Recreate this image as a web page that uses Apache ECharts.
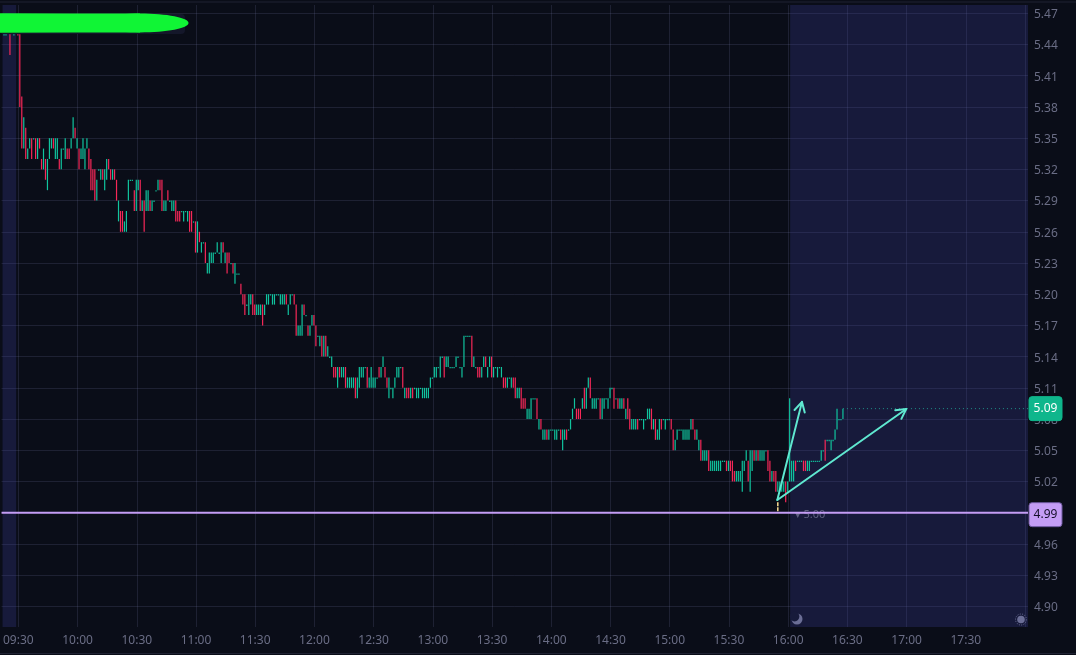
<!DOCTYPE html>
<html><head><meta charset="utf-8">
<style>html,body{margin:0;padding:0;background:#0a0d18}#c{width:1076px;height:655px}</style>
<script src="https://cdn.jsdelivr.net/npm/echarts@6/dist/echarts.min.js"></script>
</head><body><div id="c"></div>
<script>
// minutes since 09:30 of the first entry in the bar arrays
var firstBarMinute = -8;
var barHigh = [5.45,5.45,null,5.45,null,5.45,null,5.45,
5.45,5.39,5.37,5.36,5.34,5.35,5.35,5.35,5.35,5.35,
5.35,5.33,5.34,5.33,5.33,5.35,5.35,5.35,5.35,5.35,
5.33,5.34,5.34,5.35,5.34,5.34,5.35,5.37,5.36,5.35,
5.34,5.34,5.35,5.34,5.35,5.34,5.33,5.32,5.32,5.31,
5.32,5.32,5.32,5.32,5.33,5.33,5.32,5.32,5.32,5.31,
5.29,5.28,5.28,5.27,5.28,5.31,5.31,5.31,5.30,5.31,
5.31,5.31,5.29,5.29,5.30,5.30,5.29,5.29,5.29,5.30,
5.31,5.31,5.31,5.29,5.29,5.30,5.29,5.29,5.29,5.29,
5.28,5.28,5.28,5.28,5.28,5.28,5.28,5.28,5.27,5.27,
5.27,5.26,5.25,5.25,5.25,5.23,5.24,5.24,5.24,5.24,
5.25,5.24,5.25,5.25,5.24,5.24,5.24,5.23,5.23,5.23,
5.22,5.22,5.21,5.20,5.20,5.19,5.20,5.20,5.20,5.19,
5.19,5.19,5.19,5.19,5.19,5.20,5.20,5.20,5.20,5.20,
5.20,5.20,5.20,5.20,5.20,5.20,5.19,5.20,5.20,5.20,
5.19,5.17,5.17,5.19,5.19,5.18,5.17,5.17,5.18,5.18,
5.17,5.16,5.16,5.16,5.16,5.16,5.15,5.14,5.14,5.13,
5.13,5.13,5.13,5.13,5.13,5.13,5.12,5.12,5.12,5.12,
5.12,5.12,5.13,5.13,5.13,5.13,5.13,5.12,5.13,5.12,
5.12,5.12,5.13,5.13,5.14,5.13,5.12,5.12,5.11,5.11,
5.12,5.13,5.13,5.13,5.13,5.11,5.11,5.11,5.11,5.11,
5.11,5.11,5.11,5.11,5.11,5.11,5.11,5.11,5.12,5.12,
5.13,5.13,5.13,5.14,5.14,5.14,5.14,5.14,5.13,5.13,
5.13,5.14,5.14,5.13,5.13,5.16,5.16,5.16,5.16,5.16,
5.14,5.13,5.13,5.13,5.13,5.14,5.14,5.13,5.14,5.14,
5.13,5.13,5.13,5.13,5.13,5.12,5.12,5.12,5.12,5.12,
5.12,5.12,5.11,5.11,5.11,5.10,5.10,5.09,5.09,5.10,
5.10,5.10,5.10,5.08,5.08,5.07,5.07,5.07,5.07,5.07,
5.07,5.07,5.07,5.07,5.07,5.07,5.07,5.07,5.07,5.08,
5.09,5.10,5.09,5.09,5.09,5.10,5.11,5.11,5.12,5.12,
5.10,5.10,5.10,5.10,5.10,5.10,5.10,5.10,5.10,5.11,
5.11,5.11,5.10,5.10,5.10,5.10,5.10,5.09,5.10,5.09,
5.08,5.08,5.08,5.08,5.08,5.08,5.08,5.08,5.09,5.09,
5.09,5.08,5.08,5.07,5.08,5.08,5.08,5.08,5.08,5.08,
5.08,5.07,5.06,5.07,5.07,5.07,5.07,5.07,5.07,5.07,
5.08,5.08,5.07,5.07,5.06,5.06,5.05,5.05,5.05,5.05,
5.04,5.04,5.04,5.04,5.04,5.04,5.04,5.04,5.04,5.04,
5.04,5.04,5.03,5.03,5.03,5.03,5.04,5.04,5.05,5.04,
5.05,5.05,5.05,5.05,5.05,5.05,5.05,5.05,5.05,5.05,
5.04,5.03,5.03,5.03,5.02,5.02,5.02,5.02,5.02,5.02,
5.10,5.04,5.04,5.04,5.04,5.04,5.04,5.04,5.04,5.04,
5.04,5.04,5.04,5.04,5.04,5.04,5.05,5.05,5.06,5.06,
5.06,5.06,5.06,5.07,5.09,5.08,5.08,5.09];
var barLow = [5.45,5.45,null,5.43,null,5.45,null,5.45,
5.38,5.34,5.34,5.33,5.33,5.34,5.33,5.35,5.33,5.33,
5.34,5.32,5.32,5.31,5.30,5.33,5.34,5.34,5.33,5.33,
5.32,5.32,5.34,5.33,5.33,5.33,5.34,5.35,5.35,5.34,
5.32,5.33,5.33,5.32,5.34,5.32,5.30,5.30,5.29,5.29,
5.32,5.31,5.31,5.30,5.31,5.32,5.31,5.31,5.31,5.29,
5.27,5.26,5.26,5.26,5.26,5.29,5.31,5.31,5.28,5.28,
5.30,5.28,5.28,5.26,5.28,5.28,5.28,5.28,5.29,5.30,
5.30,5.30,5.28,5.28,5.28,5.29,5.29,5.28,5.28,5.27,
5.27,5.27,5.28,5.27,5.28,5.27,5.26,5.26,5.27,5.24,
5.24,5.25,5.24,5.25,5.23,5.22,5.22,5.23,5.23,5.24,
5.24,5.24,5.23,5.24,5.23,5.22,5.23,5.23,5.22,5.21,
5.22,5.22,5.20,5.19,5.18,5.19,5.18,5.19,5.18,5.18,
5.18,5.18,5.18,5.17,5.18,5.19,5.19,5.20,5.19,5.19,
5.20,5.20,5.19,5.19,5.19,5.19,5.18,5.19,5.20,5.19,
5.16,5.16,5.16,5.16,5.18,5.18,5.16,5.16,5.17,5.17,
5.15,5.16,5.15,5.14,5.14,5.14,5.14,5.14,5.13,5.12,
5.12,5.11,5.12,5.12,5.12,5.11,5.11,5.11,5.11,5.11,
5.10,5.10,5.11,5.12,5.12,5.13,5.11,5.11,5.11,5.11,
5.11,5.12,5.12,5.12,5.13,5.12,5.11,5.10,5.11,5.10,
5.11,5.12,5.12,5.13,5.11,5.10,5.10,5.10,5.10,5.10,
5.11,5.10,5.10,5.11,5.10,5.10,5.10,5.10,5.11,5.12,
5.12,5.12,5.13,5.12,5.14,5.12,5.13,5.13,5.13,5.13,
5.13,5.13,5.14,5.13,5.12,5.13,5.16,5.16,5.16,5.13,
5.13,5.13,5.12,5.12,5.12,5.13,5.13,5.12,5.13,5.12,
5.12,5.13,5.12,5.13,5.12,5.11,5.11,5.11,5.12,5.11,
5.11,5.10,5.10,5.10,5.09,5.09,5.09,5.08,5.08,5.08,
5.10,5.10,5.08,5.07,5.07,5.06,5.06,5.06,5.06,5.07,
5.07,5.06,5.06,5.07,5.06,5.05,5.06,5.06,5.07,5.07,
5.08,5.09,5.08,5.08,5.08,5.09,5.09,5.09,5.11,5.10,
5.09,5.09,5.09,5.10,5.08,5.08,5.09,5.10,5.09,5.10,
5.11,5.09,5.10,5.09,5.09,5.09,5.09,5.08,5.08,5.07,
5.07,5.07,5.07,5.07,5.08,5.08,5.07,5.08,5.08,5.08,
5.07,5.07,5.06,5.06,5.06,5.07,5.08,5.07,5.08,5.08,
5.07,5.05,5.05,5.06,5.07,5.07,5.06,5.06,5.06,5.06,
5.07,5.07,5.06,5.06,5.05,5.04,5.04,5.04,5.04,5.03,
5.03,5.03,5.03,5.03,5.03,5.03,5.04,5.04,5.03,5.03,
5.03,5.02,5.02,5.02,5.02,5.02,5.01,5.03,5.04,5.02,
5.01,5.03,5.04,5.04,5.04,5.04,5.04,5.04,5.05,5.03,
5.02,5.02,5.02,5.01,5.01,5.01,5.01,5.01,5.00,5.01,
5.02,5.02,5.02,5.03,5.04,5.04,5.04,5.03,5.03,5.03,
5.03,5.04,5.04,5.04,5.04,5.04,5.04,5.05,5.04,5.06,
5.06,5.05,5.06,5.06,5.07,5.08,5.08,5.08];
var barUp = [1,1,null,0,null,1,null,0,
0,0,1,0,1,1,0,1,0,1,
0,0,1,0,1,1,1,0,1,1,
0,1,1,1,0,0,1,1,0,1,
0,1,1,1,1,0,0,0,0,1,
1,1,0,1,1,0,0,1,0,0,
1,0,0,1,1,1,1,1,0,1,
1,0,1,0,1,1,0,1,1,1,
1,0,0,1,1,0,1,1,1,0,
0,0,1,1,1,1,0,0,1,0,
1,0,1,1,0,1,1,1,1,1,
1,1,1,0,1,0,0,1,0,1,
1,1,0,0,0,1,1,1,0,0,
1,1,1,0,1,1,1,1,1,1,
1,1,1,1,1,0,1,1,1,0,
0,1,1,1,0,1,0,1,1,0,
0,1,1,0,1,0,1,1,1,0,
0,1,0,1,1,0,1,1,1,1,
0,1,1,1,1,1,0,1,1,1,
1,1,0,1,1,0,0,1,1,1,
1,1,1,1,0,1,0,0,1,0,
1,1,1,1,1,1,1,1,1,1,
1,1,1,1,1,0,1,1,1,1,
1,1,1,1,1,1,1,1,1,0,
1,1,0,0,1,1,0,1,1,0,
1,1,1,1,1,0,0,1,1,1,
0,0,1,1,0,0,0,1,1,1,
1,1,0,1,0,1,1,0,1,1,
1,1,1,1,0,1,1,0,1,1,
1,1,0,0,0,1,0,1,1,0,
1,1,1,1,0,1,1,1,1,1,
1,0,1,0,1,1,0,1,0,0,
1,1,1,0,1,1,1,1,1,1,
0,1,0,1,1,0,1,1,1,1,
0,0,1,1,1,1,1,1,1,1,
1,0,0,1,1,0,1,1,1,0,
1,1,1,1,1,1,1,1,0,1,
0,0,0,1,1,1,1,1,1,0,
1,1,0,1,0,1,1,1,1,0,
0,1,0,0,1,1,1,1,0,1,
1,1,1,0,1,1,1,0,0,1,
1,1,1,1,1,1,1,1,0,1,
1,1,1,1,1,1,1,1];
// bar drawn in yellow at the close
var closeAuctionBar = [384, 5.00, 4.99];

var priceTicks = [5.47,5.44,5.41,5.38,5.35,5.32,5.29,5.26,5.23,5.20,5.17,5.14,5.11,5.08,5.05,5.02,4.99,4.96,4.93,4.90];
var priceTickLabels = ['5.47','5.44','5.41','5.38','5.35','5.32','5.29','5.26','5.23','5.20','5.17','5.14','5.11','5.08','5.05','5.02','4.99','4.96','4.93','4.90'];
var timeTicks = [0,30,60,90,120,150,180,210,240,270,300,330,360,390,420,450,480,510];
var timeTickLabels = ['09:30','10:00','10:30','11:00','11:30','12:00','12:30','13:00','13:30','14:00','14:30','15:00','15:30','16:00','16:30','17:00','17:30',''];

var xRange = [-8.5, 511.5];
var yRange = [4.8801, 5.478];
var sessionOff = [[-8, -1.1], [391, 511.5]];

var lastPrice = 5.09, lastBarMinute = 417;
var levelPrice = 4.99;
var arrowFrom = [384.5, 5.0022];
var arrowTips = [[397.0, 5.0965], [449.8, 5.0897]];
var levelNote = {minute: 393.3, price: 4.988, text: '\u25BE 5.00'};
var priceTags = [
  {price: 5.09, text: '5.09', bg: '#0fb68c', fg: '#ffffff', border: '#0fb68c', dy: 0},
  {price: 4.99, text: '4.99', bg: '#c49df5', fg: '#14102a', border: '#6f5aa0', dy: 2}
];

var barData = [];
barHigh.forEach(function (h, k) {
  if (h !== null) barData.push([firstBarMinute + k + 0.75, h, barLow[k], barUp[k]]);
});

var UP = '#10c49e', DOWN = '#f62858', FONT = '"Noto Sans", sans-serif', AXIS = '#6a6d85', ARROW = '#5fe8d0';
var chart = echarts.init(document.getElementById('c'), null, {renderer: 'canvas'});

function renderBar(p, api) {
  var a = api.coord([api.value(0), api.value(1)]);
  var b = api.coord([api.value(0), api.value(2)]);
  var up = api.value(3) === 1;
  var h = Math.max(b[1] - a[1], 1.3);
  return {type: 'rect', shape: {x: a[0] - 0.6, y: a[1], width: 1.2, height: h},
    style: {fill: up ? UP : DOWN}};
}
function renderArrow(p, api) {
  var s = api.coord(arrowFrom), t = api.coord([api.value(0), api.value(1)]);
  var ang = Math.atan2(t[1] - s[1], t[0] - s[0]), L = 11, W = 0.5;
  var h1 = [t[0] - L * Math.cos(ang - W), t[1] - L * Math.sin(ang - W)];
  var h2 = [t[0] - L * Math.cos(ang + W), t[1] - L * Math.sin(ang + W)];
  var st = {stroke: ARROW, lineWidth: 2, fill: null, lineCap: 'round', lineJoin: 'round'};
  return {type: 'group', children: [
    {type: 'line', shape: {x1: s[0], y1: s[1], x2: t[0], y2: t[1]}, style: st},
    {type: 'polyline', shape: {points: [h1, t, h2]}, style: st}
  ]};
}
function renderTag(p, api) {
  var tag = priceTags[p.dataIndex];
  var y = api.coord([0, api.value(0)])[1] + tag.dy;
  var x = p.coordSys.x + p.coordSys.width + 1;
  return {type: 'group', children: [
    {type: 'rect', shape: {x: x, y: y - 12, width: 33, height: 24, r: 3},
      style: {fill: tag.bg, stroke: tag.border, lineWidth: 1}},
    {type: 'text', style: {x: x + 16.5, y: y, text: tag.text, fill: tag.fg, font: '12px ' + FONT, align: 'center', verticalAlign: 'middle'}}
  ]};
}

chart.setOption({
  animation: false,
  backgroundColor: '#0a0d18',
  grid: {left: 0, right: 48, top: 5, bottom: 28, containLabel: false},
  xAxis: {
    type: 'value', min: xRange[0], max: xRange[1],
    axisLine: {show: false},
    axisTick: {show: false, customValues: timeTicks},
    splitLine: {show: true, lineStyle: {color: 'rgba(120,125,180,0.18)', width: 1}},
    axisLabel: {
      customValues: timeTicks, color: AXIS, fontFamily: 'Noto Sans', fontSize: 12, margin: 8, hideOverlap: false,
      formatter: function (v) { return timeTickLabels[timeTicks.indexOf(v)]; }
    }
  },
  yAxis: {
    type: 'value', position: 'right', min: yRange[0], max: yRange[1], scale: true,
    axisLine: {show: false},
    axisTick: {show: false, customValues: priceTicks},
    splitLine: {show: true, lineStyle: {color: 'rgba(120,125,180,0.18)', width: 1}},
    axisLabel: {
      customValues: priceTicks, color: AXIS, fontFamily: 'Noto Sans', fontSize: 12, margin: 6,
      rich: {p: {color: AXIS, fontFamily: 'Noto Sans', fontSize: 12, padding: [3, 0, 0, 0]}},
      formatter: function (v) { return '{p|' + priceTickLabels[priceTicks.indexOf(v)] + '}'; }
    }
  },
  series: [
    {
      type: 'custom', name: 'bars', z: 3, clip: true, silent: true,
      encode: {x: 0, y: [1, 2]}, data: barData, renderItem: renderBar,
      markArea: {
        silent: true, z: 1,
        itemStyle: {color: 'rgba(62,69,164,0.25)'},
        data: sessionOff.map(function (r) { return [{xAxis: r[0]}, {xAxis: r[1]}]; })
      }
    },
    {
      type: 'custom', name: 'auction', z: 3, silent: true,
      encode: {x: 0, y: [1, 2]}, data: [closeAuctionBar],
      renderItem: function (p, api) {
        var a = api.coord([api.value(0) + 0.75, api.value(1)]), b = api.coord([api.value(0) + 0.75, api.value(2)]);
        return {type: 'line', shape: {x1: a[0], y1: a[1], x2: b[0], y2: b[1]},
          style: {stroke: '#ecd08a', lineWidth: 1.6, lineDash: [4, 1]}};
      }
    },
    {
      type: 'custom', name: 'note', z: 4, silent: true,
      encode: {x: 0, y: 1}, data: [[levelNote.minute, levelNote.price]],
      renderItem: function (p, api) {
        var c = api.coord([api.value(0), api.value(1)]);
        return {type: 'text', style: {x: c[0], y: c[1], text: levelNote.text, fill: '#5e6080', font: '11px ' + FONT, verticalAlign: 'middle'}};
      }
    },
    {
      type: 'line', name: 'level', z: 5, silent: true, symbol: 'none',
      data: [[xRange[0], levelPrice], [xRange[1], levelPrice]],
      lineStyle: {color: '#c49df5', width: 2}
    },
    {
      type: 'line', name: 'last', z: 3, silent: true, symbol: 'none',
      data: [[lastBarMinute + 0.75, lastPrice], [xRange[1], lastPrice]],
      lineStyle: {color: '#1f8f88', width: 1, type: [1, 3]}
    },
    {
      type: 'custom', name: 'arrows', z: 6, silent: true,
      encode: {x: 0, y: 1}, data: arrowTips, renderItem: renderArrow
    },
    {
      type: 'custom', name: 'tags', z: 7, silent: true, clip: false,
      encode: {y: 0}, data: priceTags.map(function (t) { return [t.price]; }), renderItem: renderTag
    }
  ],
  graphic: [
    {type: 'line', z: 10, shape: {x1: 0, y1: 2, x2: 1076, y2: 2}, style: {stroke: '#1f2233', lineWidth: 1}},
    {type: 'line', z: 10, shape: {x1: 0, y1: 653.5, x2: 1076, y2: 653.5}, style: {stroke: '#1f2233', lineWidth: 1}},
    {type: 'rect', z: 10, shape: {x: 0, y: 14, width: 185, height: 20, r: 4}, style: {fill: '#14172a'}},
    {type: 'ellipse', z: 11, shape: {cx: 140, cy: 23, rx: 48.5, ry: 9.4}, style: {fill: '#10f535'}},
    {type: 'polygon', z: 11, shape: {points: [[0, 13.2], [70, 13.4], [140, 13.6], [140, 32.4], [70, 32.6], [0, 32.8]]}, style: {fill: '#10f535'}},
    {type: 'circle', z: 10, shape: {cx: 797, cy: 619, r: 5.5}, style: {fill: '#6b6e96'}},
    {type: 'circle', z: 11, shape: {cx: 794.6, cy: 616.6, r: 4.8}, style: {fill: '#171b3b'}},
    {type: 'circle', z: 10, shape: {cx: 1021, cy: 619.5, r: 3.8}, style: {fill: '#6b6e96'}},
    {type: 'circle', z: 10, shape: {cx: 1021, cy: 619.5, r: 5.5}, style: {fill: 'none', stroke: '#6b6e96', lineWidth: 1, lineDash: [1, 1.4]}}
  ]
});
</script></body></html>
